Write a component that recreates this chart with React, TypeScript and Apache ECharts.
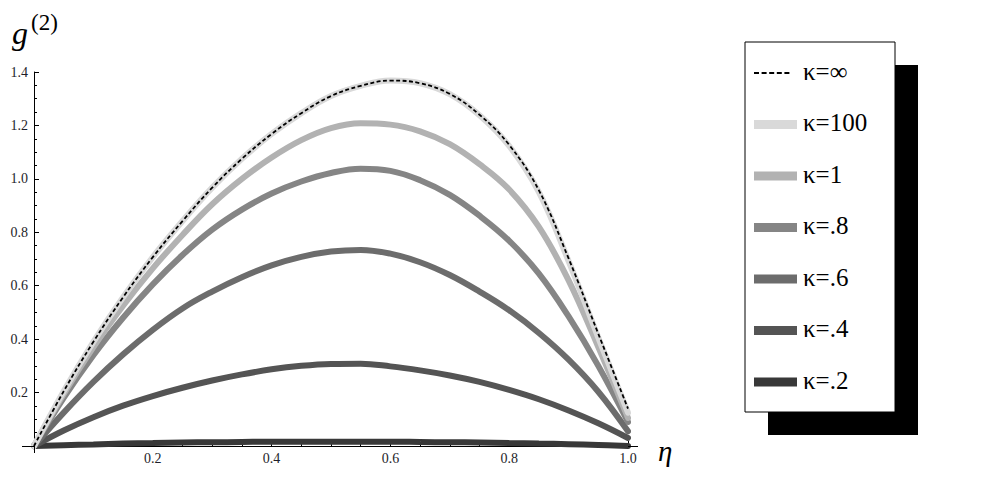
import React, { useEffect, useRef } from "react";
import * as echarts from "echarts";

// eta values (x axis)
const eta = [0, 0.05, 0.1, 0.15, 0.2, 0.25, 0.3, 0.35, 0.4, 0.45, 0.5, 0.55, 0.6, 0.65, 0.7, 0.75, 0.8, 0.85, 0.9, 0.95, 1.0];

// g2 values
const kInf = [0, 0.205, 0.39, 0.557, 0.707, 0.842, 0.967, 1.075, 1.168, 1.246, 1.31, 1.348, 1.368, 1.358, 1.318, 1.24, 1.127, 0.957, 0.702, 0.42, 0.14];
const k100 = [0, 0.205, 0.39, 0.557, 0.707, 0.842, 0.967, 1.075, 1.168, 1.246, 1.31, 1.348, 1.368, 1.358, 1.317, 1.238, 1.123, 0.95, 0.692, 0.406, 0.125];
const k1 = [0, 0.195, 0.37, 0.525, 0.665, 0.79, 0.905, 1.0, 1.08, 1.145, 1.19, 1.208, 1.203, 1.178, 1.13, 1.055, 0.96, 0.82, 0.62, 0.37, 0.105];
const k08 = [0, 0.18, 0.34, 0.48, 0.605, 0.715, 0.81, 0.885, 0.945, 0.99, 1.022, 1.038, 1.03, 0.995, 0.94, 0.862, 0.768, 0.645, 0.485, 0.30, 0.09];
const k06 = [0, 0.125, 0.24, 0.343, 0.435, 0.515, 0.578, 0.632, 0.676, 0.708, 0.728, 0.734, 0.72, 0.688, 0.64, 0.578, 0.508, 0.423, 0.323, 0.203, 0.055];
const k04 = [0, 0.058, 0.108, 0.151, 0.187, 0.218, 0.245, 0.268, 0.287, 0.3, 0.307, 0.308, 0.298, 0.283, 0.264, 0.24, 0.21, 0.175, 0.133, 0.085, 0.03];
const k02 = [0, 0.003, 0.006, 0.009, 0.011, 0.013, 0.014, 0.015, 0.016, 0.016, 0.016, 0.016, 0.016, 0.015, 0.014, 0.013, 0.011, 0.009, 0.007, 0.004, 0];

const names = ["κ=∞", "κ=100", "κ=1", "κ=.8", "κ=.6", "κ=.4", "κ=.2"];
const values = [kInf, k100, k1, k08, k06, k04, k02];
const colors = ["#000000", "#d9d9d9", "#b2b2b2", "#858585", "#6c6c6c", "#545454", "#383838"];

// tick labels
const yTicks = [0.2, 0.4, 0.6, 0.8, 1.0, 1.2, 1.4];
const xTicks = [0.2, 0.4, 0.6, 0.8, 1.0];

const SERIF = "Liberation Serif";

export default function App() {
  const ref = useRef<HTMLDivElement>(null);
  useEffect(() => {
    const chart = echarts.init(ref.current!, null, { renderer: "svg" });
    const fmtY = (v: number) => (yTicks.some((t) => Math.abs(t - v) < 1e-6) ? v.toFixed(1) : "");
    const fmtX = (v: number) => (xTicks.some((t) => Math.abs(t - v) < 1e-6) ? v.toFixed(1) : "");
    const series: any[] = [];
    // draw darkest first, dashed infinity last
    for (let i = values.length - 1; i >= 0; i--) {
      const isInf = i === 0;
      series.push({
        name: names[i],
        type: "line",
        data: eta.map((x, j) => [x, values[i][j]]),
        smooth: 0.4,
        showSymbol: false,
        symbol: "none",
        z: isInf ? 10 : 2 + (values.length - i) * 0.1,
        lineStyle: isInf
          ? { color: "#000", width: 1.8, type: [4, 2.5] }
          : { color: colors[i], width: 6, cap: "round" },
        clip: false,
      });
    }

    const legendX = 745;
    const legendY = 42;
    const legendW = 150;
    const legendH = 370;
    const graphic: any[] = [
      { type: "rect", z: 1, shape: { x: legendX + 23, y: legendY + 23, width: legendW, height: legendH }, style: { fill: "#000" } },
      { type: "rect", z: 2, shape: { x: legendX, y: legendY, width: legendW, height: legendH }, style: { fill: "#fff", stroke: "#000", lineWidth: 1 } },
      // axis overhangs
      { type: "line", z: 3, shape: { x1: 22, y1: 446.5, x2: 34, y2: 446.5 }, style: { stroke: "#000", lineWidth: 1 } },
      { type: "line", z: 3, shape: { x1: 628, y1: 446.5, x2: 638, y2: 446.5 }, style: { stroke: "#000", lineWidth: 1 } },
      { type: "line", z: 3, shape: { x1: 34.5, y1: 446, x2: 34.5, y2: 453 }, style: { stroke: "#000", lineWidth: 1 } },
      // axis names
      { type: "text", z: 3, x: 12, y: 33, style: { text: "g", fontFamily: SERIF, fontStyle: "italic", fontSize: 32, fill: "#000", verticalAlign: "middle" } },
      { type: "text", z: 3, x: 31, y: 22, style: { text: "(2)", fontFamily: SERIF, fontSize: 23, fill: "#000", verticalAlign: "middle" } },
      { type: "text", z: 3, x: 658, y: 451, style: { text: "η", fontFamily: SERIF, fontStyle: "italic", fontSize: 29, fill: "#000", verticalAlign: "middle" } },
    ];
    names.forEach((n, i) => {
      const cy = 73 + i * 51.5;
      if (i === 0) {
        graphic.push({ type: "line", z: 3, shape: { x1: 754, y1: cy, x2: 790, y2: cy }, style: { stroke: "#000", lineWidth: 2, lineDash: [5, 2.6] } });
      } else {
        graphic.push({ type: "rect", z: 3, shape: { x: 754, y: cy - 4.5, width: 43, height: 9 }, style: { fill: colors[i] } });
      }
      graphic.push({ type: "text", z: 3, x: 803, y: cy - 2, style: { text: n, fontFamily: SERIF, fontSize: 25, fill: "#000", verticalAlign: "middle" } });
    });

    const axisCommon = {
      type: "value",
      min: 0,
      interval: 0.2,
      axisLine: { show: true, onZero: false, lineStyle: { color: "#000", width: 1 } },
      axisTick: { show: true, inside: true, length: 5, lineStyle: { color: "#000" } },
      minorTick: { show: true, splitNumber: 4, length: 3, lineStyle: { color: "#000" } },
      splitLine: { show: false },
      minorSplitLine: { show: false },
    };
    const labelCommon = { fontFamily: SERIF, fontSize: 14, color: "#1e1e2a" };

    chart.setOption({
      animation: false,
      backgroundColor: "#fff",
      grid: { left: 34, right: 353, top: 72, bottom: 51, containLabel: false },
      xAxis: { ...axisCommon, max: 1.0, axisLabel: { ...labelCommon, formatter: fmtX, margin: 5 } },
      yAxis: { ...axisCommon, max: 1.4, axisLabel: { ...labelCommon, formatter: fmtY, margin: 6 } },
      series,
      graphic,
    });
    return () => chart.dispose();
  }, []);
  return <div ref={ref} style={{ position: "fixed", left: 0, top: 0, width: 981, height: 497 }} />;
}
